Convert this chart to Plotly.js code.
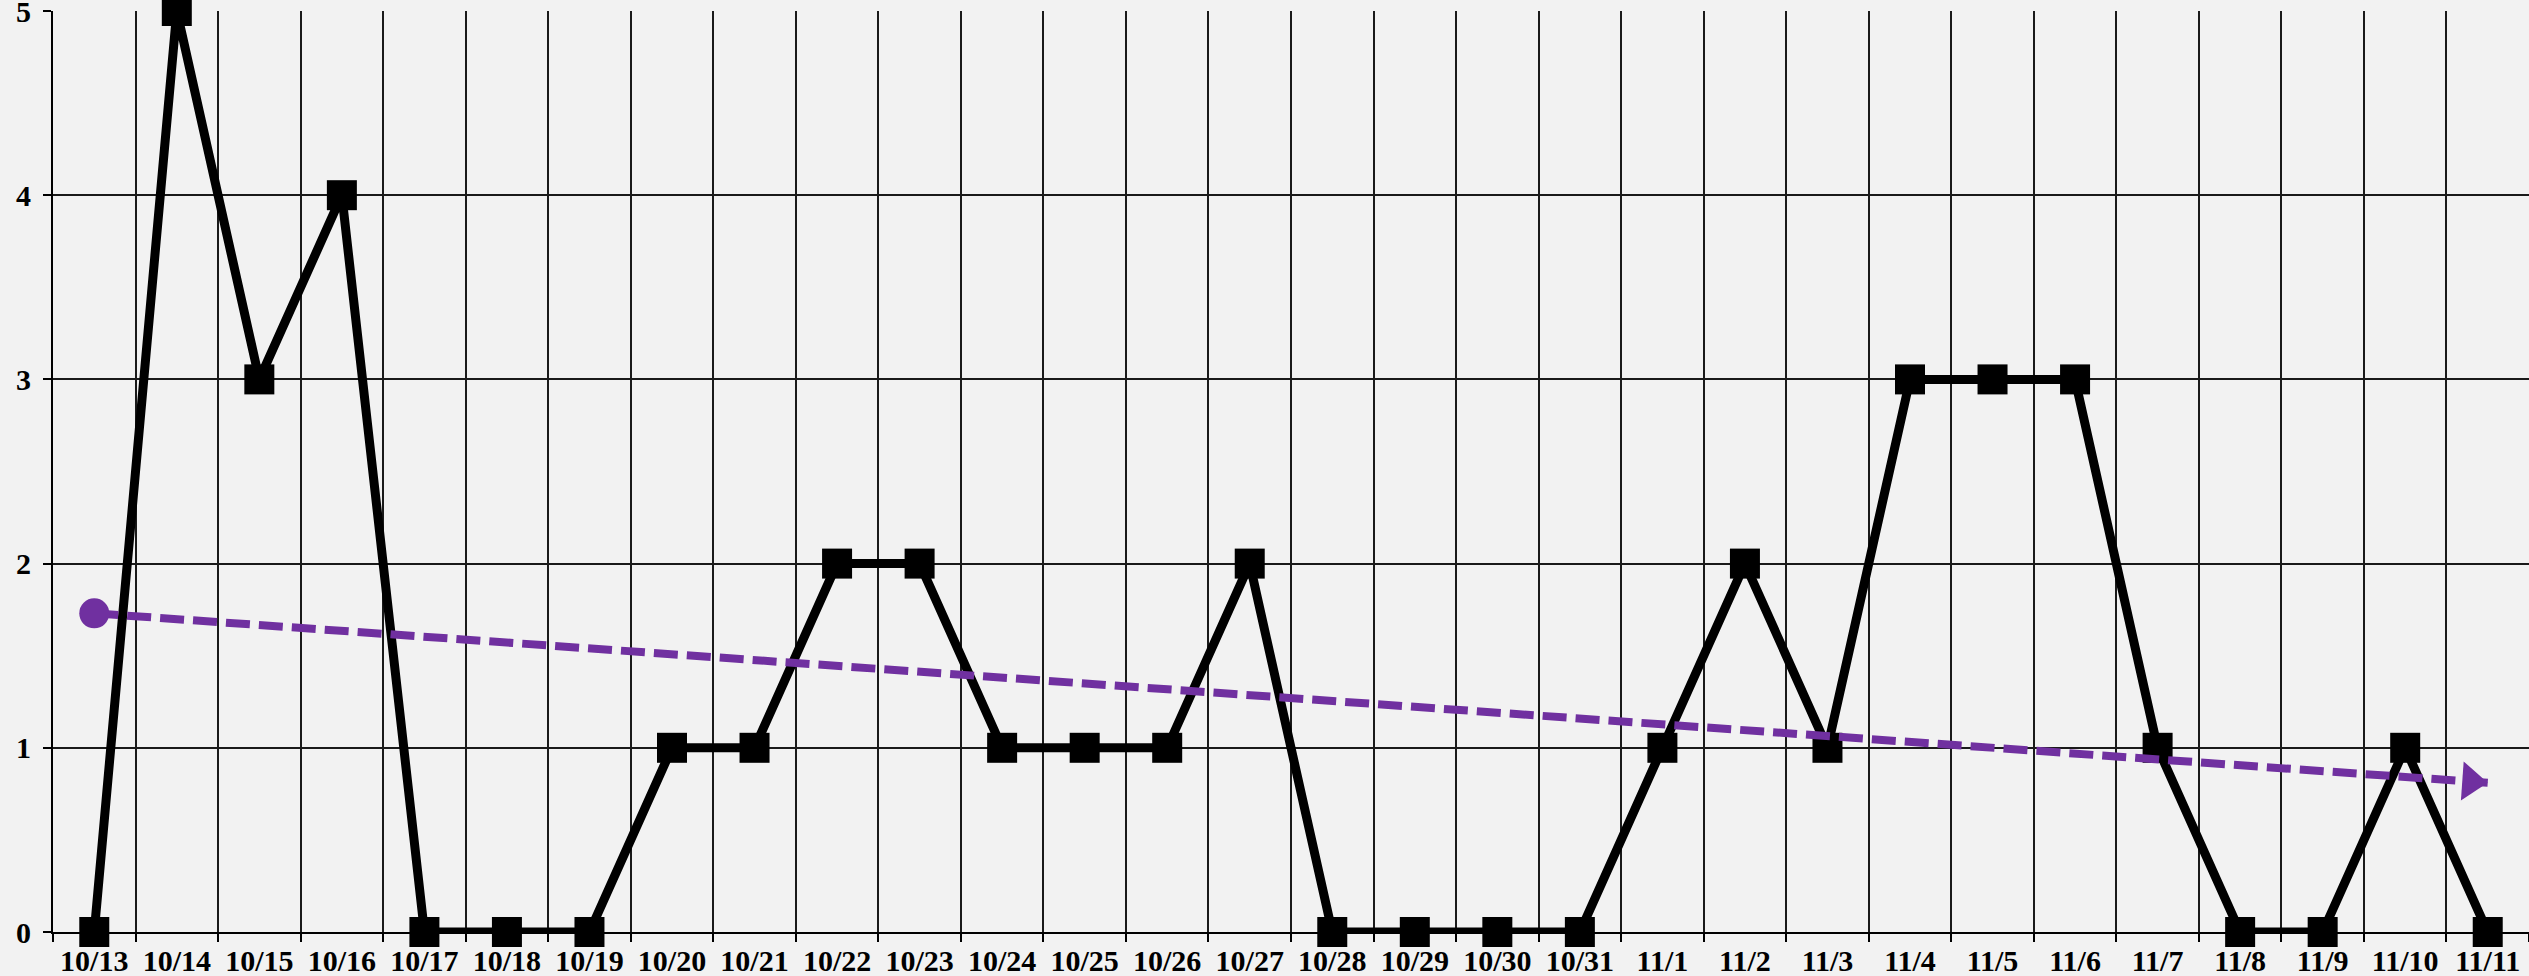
<!DOCTYPE html>
<html>
<head>
<meta charset="utf-8">
<script src="https://cdn.plot.ly/plotly-3.0.1.min.js"></script>
<style>
  html, body { margin: 0; padding: 0; background: #f2f2f2; }
  #chart { width: 2529px; height: 976px; }
</style>
</head>
<body>
<div id="chart"></div>
<script>
const dates = ["10/13","10/14","10/15","10/16","10/17","10/18","10/19","10/20","10/21","10/22",
               "10/23","10/24","10/25","10/26","10/27","10/28","10/29","10/30","10/31","11/1",
               "11/2","11/3","11/4","11/5","11/6","11/7","11/8","11/9","11/10","11/11"];
const counts = [0,5,3,4,0,0,0,1,1,2,
                2,1,1,1,2,0,0,0,0,1,
                2,1,3,3,3,1,0,0,1,0];
const trendDates = ["10/13","11/11"];
const trendValues = [1.73, 0.81];
const yTicks = [0,1,2,3,4,5];

const font = {family: "Liberation Serif, Times New Roman, serif", size: 30, color: "#000", weight: "bold"};
const purple = "#7030a0";

const traces = [
  {
    x: dates, y: counts, type: "scatter", mode: "lines+markers",
    line: {color: "#000", width: 9},
    marker: {symbol: "square", size: 30, color: "#000"},
    cliponaxis: false, showlegend: false, hoverinfo: "x+y"
  },
  {
    x: trendDates, y: trendValues, type: "scatter", mode: "lines",
    line: {color: purple, width: 8, dash: "24px,9px"},
    cliponaxis: false, showlegend: false, hoverinfo: "skip"
  },
  {
    x: trendDates, y: trendValues, type: "scatter", mode: "markers",
    marker: {symbol: ["circle","triangle-up"], size: [0, 34], color: purple, opacity: 1,
             angleref: "previous", standoff: [0, 17], line: {width: 0}},
    cliponaxis: false, showlegend: false, hoverinfo: "skip"
  },
  {
    x: trendDates.slice(0, 1), y: trendValues.slice(0, 1), type: "scatter", mode: "markers",
    marker: {symbol: "circle", size: 30, color: purple, opacity: 1, line: {width: 0}},
    cliponaxis: false, showlegend: false, hoverinfo: "skip"
  }
];

const layout = {
  width: 2529, height: 976,
  paper_bgcolor: "#f2f2f2", plot_bgcolor: "#f2f2f2",
  margin: {l: 53, r: 0, t: 11, b: 44, pad: 0, autoexpand: false},
  font: font,
  xaxis: {
    type: "category", categoryorder: "array", categoryarray: dates,
    range: [-0.5, 29.5], tickson: "boundaries",
    showgrid: true, gridcolor: "#1a1a1a", gridwidth: 2,
    showline: true, linecolor: "#000", linewidth: 2,
    ticks: "outside", ticklen: 8, tickwidth: 2, tickcolor: "#000",
    tickfont: font, ticklabeloverflow: "allow", ticklabelstandoff: 1,
    zeroline: false, fixedrange: true, automargin: false
  },
  yaxis: {
    range: [0, 5], tickvals: yTicks, ticktext: yTicks.map(v => v + "\u2009"),
    showgrid: true, gridcolor: "#1a1a1a", gridwidth: 2,
    showline: true, linecolor: "#000", linewidth: 2,
    ticks: "outside", ticklen: 8, tickwidth: 2, tickcolor: "#000",
    tickfont: font, ticklabeloverflow: "allow", zeroline: false, fixedrange: true,
    automargin: false
  }
};

Plotly.newPlot("chart", traces, layout, {displayModeBar: false, staticPlot: true});
</script>
</body>
</html>
